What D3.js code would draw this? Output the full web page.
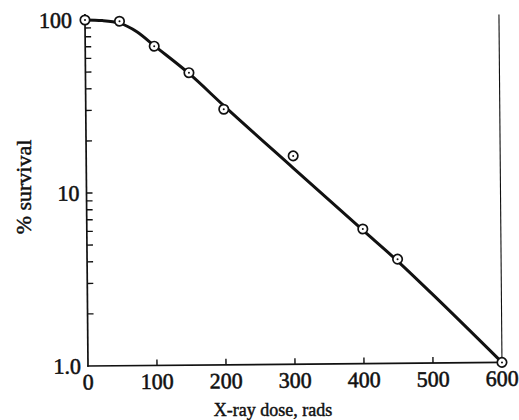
<!DOCTYPE html>
<html>
  <head>
    <meta charset="utf-8" />
    <title> Survival curve </title>
    <script src="https://d3js.org/d3.v7.min.js"></script>
    <style>
      body { margin: 0; background: white; }
      text { font-family: "Liberation Serif", "Times New Roman", serif; fill: #111; }
    </style>
  </head>

  <body>
    <svg id="chart" width=519 height=420></svg>

    <script>

    // measured points
    var doses = [0, 50, 100, 150, 200, 300, 400, 450, 600];
    var survival = [100, 98, 70, 49, 30, 16, 6.0, 4.0, 1.0];

    // fitted curve
    var curveDoses = [0, 25, 50, 75, 100, 150, 200, 300, 400, 450, 500, 600];
    var curveSurvival = [100, 99, 95.5, 85, 70.5, 48.5, 31.5, 13.6, 5.9, 3.9, 2.5, 1.0];

    var xTicks = [0, 100, 200, 300, 400, 500, 600];
    var yLabels = [100, 10, 1];
    var yLabelText = ["100", "10", "1.0"];

    var svg = d3.select("#chart");

    var x = d3.scaleLinear()
      .domain([0, 600])
      .range([88, 502]);

    var y = d3.scaleLog()
      .domain([1, 100])
      .range([366, 20]);

    // the printed figure sits a little crooked on the page
    var g = svg.append("g")
      .attr("transform", "rotate(-0.5," + x(0) + "," + y(1) + ")");

    // minor ticks on the y axis (2..9 of each decade)
    var minor = [];
    [1, 10].forEach(function(dec) {
      for (var k = 2; k <= 9; k++) minor.push(dec * k);
    });
    minor.push(10);

    g.selectAll(".ytick")
      .data(minor)
      .enter().append("line")
      .attr("x1", x(0))
      .attr("x2", x(0) + 6)
      .attr("y1", function(d) { return y(d); })
      .attr("y2", function(d) { return y(d); })
      .attr("stroke", "#111")
      .attr("stroke-width", 1.4);

    // x ticks pointing up
    g.selectAll(".xtick")
      .data(xTicks.filter(function(d) { return d > 0 && d < 600; }))
      .enter().append("line")
      .attr("x1", function(d) { return x(d); })
      .attr("x2", function(d) { return x(d); })
      .attr("y1", y(1))
      .attr("y2", y(1) - 6)
      .attr("stroke", "#111")
      .attr("stroke-width", 1.4);

    // axes lines
    g.append("line")
      .attr("x1", x(0)).attr("x2", x(0))
      .attr("y1", y(100) - 6).attr("y2", y(1) + 0.8)
      .attr("stroke", "#111").attr("stroke-width", 1.7);

    g.append("line")
      .attr("x1", x(0) - 0.8).attr("x2", x(600))
      .attr("y1", y(1)).attr("y2", y(1))
      .attr("stroke", "#111").attr("stroke-width", 1.7);

    // thin line at 600 rads
    g.append("line")
      .attr("x1", x(600)).attr("x2", x(600))
      .attr("y1", y(100) - 2).attr("y2", y(1))
      .attr("stroke", "#111").attr("stroke-width", 1.1);

    // tick labels
    g.selectAll(".xlabel")
      .data(xTicks)
      .enter().append("text")
      .attr("x", function(d) { return x(d); })
      .attr("y", 389.5)
      .attr("text-anchor", "middle")
      .attr("font-size", 22)
      .attr("stroke", "#111")
      .attr("stroke-width", 0.55)
      .text(function(d) { return d; });

    g.selectAll(".ylabel")
      .data(yLabels)
      .enter().append("text")
      .attr("x", function(d, i) { return i == 0 ? x(0) - 13 : x(0) - 7; })
      .attr("y", function(d) { return y(d) + 7.5; })
      .attr("text-anchor", "end")
      .attr("font-size", 22)
      .attr("stroke", "#111")
      .attr("stroke-width", 0.55)
      .text(function(d, i) { return yLabelText[i]; });

    // axis titles
    svg.append("text")
      .attr("x", 273)
      .attr("y", 416)
      .attr("text-anchor", "middle")
      .attr("font-size", 18)
      .attr("stroke", "#111")
      .attr("stroke-width", 0.45)
      .text("X-ray dose, rads");

    svg.append("text")
      .attr("transform", "translate(31,187) rotate(-90)")
      .attr("text-anchor", "middle")
      .attr("font-size", 22)
      .attr("stroke", "#111")
      .attr("stroke-width", 0.45)
      .text("% survival");

    // survival curve
    var line = d3.line()
      .x(function(d, i) { return x(curveDoses[i]); })
      .y(function(d) { return y(d); })
      .curve(d3.curveMonotoneX);

    g.append("path")
      .attr("d", line(curveSurvival))
      .attr("fill", "none")
      .attr("stroke", "#111")
      .attr("stroke-width", 3);

    // data points: open circle with a dot
    var pts = g.selectAll(".pt")
      .data(survival)
      .enter().append("g")
      .attr("transform", function(d, i) {
        return "translate(" + x(doses[i]) + "," + y(d) + ")";
      });

    pts.append("circle")
      .attr("r", 4.7)
      .attr("fill", "white")
      .attr("stroke", "#111")
      .attr("stroke-width", 1.7);

    pts.append("circle")
      .attr("r", 1)
      .attr("fill", "#111");

    </script>

  </body>

</html>
